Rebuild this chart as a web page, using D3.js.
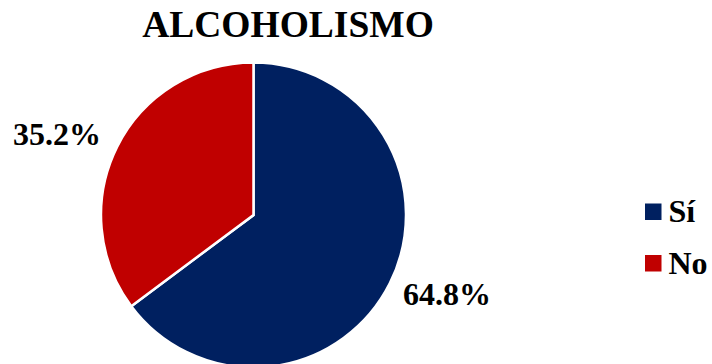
<!DOCTYPE html>
<html>
<head>
<meta charset="utf-8">
<script src="https://cdn.jsdelivr.net/npm/d3@7/dist/d3.min.js"></script>
<style>
  html, body { margin: 0; padding: 0; background: #ffffff; }
  svg { display: block; }
</style>
</head>
<body>
<svg id="chart" width="712" height="364"></svg>
<script>
// Alcoholism survey: share of respondents
const categories = ["Sí", "No"];
const values = [64.8, 35.2];
const colors = ["#002060", "#C00000"];
const title = "ALCOHOLISMO";

const svg = d3.select("#chart");
const W = 712, H = 364;

svg.append("rect").attr("width", W).attr("height", H).attr("fill", "#fff");

svg.append("text")
  .attr("x", 288).attr("y", 37)
  .attr("text-anchor", "middle")
  .attr("font-family", "Liberation Serif").attr("font-weight", "bold")
  .attr("font-size", 37.5)
  .text(title);

const cx = 253.5, cy = 215, r = 152.5;
const color = d3.scaleOrdinal().domain(categories).range(colors);

const pie = d3.pie().sort(null).value(d => d.value);
const arcs = pie(categories.map((c, i) => ({ cat: c, value: values[i] })));
const arc = d3.arc().innerRadius(0).outerRadius(r);

const g = svg.append("g").attr("transform", `translate(${cx},${cy})`);
g.selectAll("path").data(arcs).join("path")
  .attr("d", arc)
  .attr("fill", d => color(d.data.cat))
  .attr("stroke", "#fff")
  .attr("stroke-width", 2.5);

// Percentage labels outside the slices
const labelPos = [[447, 305], [57, 145]];
svg.selectAll("text.pct").data(arcs).join("text")
  .attr("class", "pct")
  .attr("x", (d, i) => labelPos[i][0])
  .attr("y", (d, i) => labelPos[i][1])
  .attr("text-anchor", "middle")
  .attr("font-family", "Liberation Serif").attr("font-weight", "bold")
  .attr("font-size", 32)
  .text(d => d.data.value.toFixed(1) + "%");

// Legend
const items = svg.append("g").selectAll("g").data(categories).join("g")
  .attr("transform", (d, i) => `translate(645,${203.5 + i * 51.5})`);
items.append("rect")
  .attr("width", 16.5).attr("height", 16.5)
  .attr("fill", d => color(d));
items.append("text")
  .attr("x", 23.5).attr("y", 18.5)
  .attr("font-family", "Liberation Serif").attr("font-weight", "bold")
  .attr("font-size", 32)
  .text(d => d);

// Measure every label so the serif face is laid out before the page is shown
svg.selectAll("text").each(function () { this.getComputedTextLength(); });
</script>
</body>
</html>
